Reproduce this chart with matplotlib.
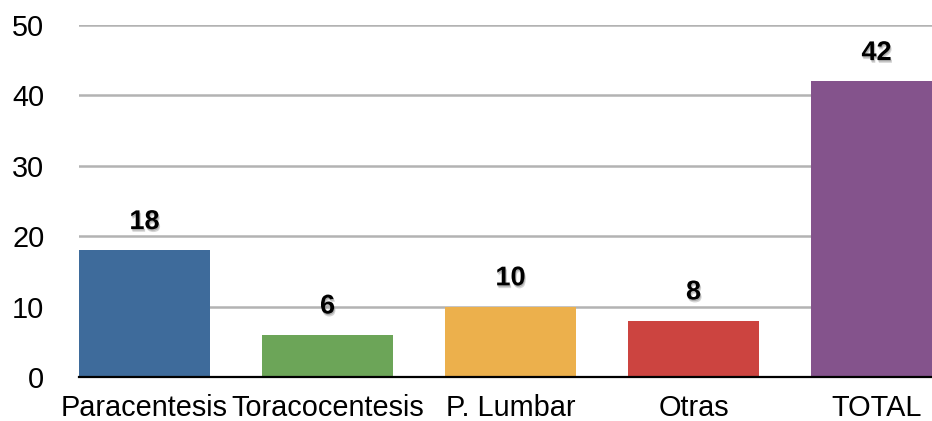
import matplotlib
matplotlib.use("Agg")
import matplotlib.pyplot as plt
import matplotlib.patheffects as pe

categories = ["Paracentesis", "Toracocentesis", "P. Lumbar", "Otras", "TOTAL"]
values = [18, 6, 10, 8, 42]
colors = ["#3e6b9b", "#6ca558", "#ecb04c", "#cc4440", "#84538c"]
yticks = [0, 10, 20, 30, 40, 50]

plt.rcParams["font.family"] = ["Liberation Sans", "DejaVu Sans"]

fig = plt.figure(figsize=(9.32, 4.21), dpi=100)
ax = fig.add_axes([0.0848, 0.1045, 0.9152, 0.8361])

x = list(range(len(categories)))
ax.bar(x, values, width=0.716, color=colors, zorder=2)

shadow = [pe.SimplePatchShadow(offset=(1.0, -2.0), shadow_rgbFace="#888888", alpha=0.35),
          pe.SimplePatchShadow(offset=(0.5, -1.0), shadow_rgbFace="#666666", alpha=0.35),
          pe.Normal()]
for xi, v in zip(x, values):
    ax.annotate(str(v), (xi, v), xytext=(0, 11), textcoords="offset points",
                ha="center", va="bottom", fontsize=19.5, fontweight="bold",
                color="black", path_effects=shadow)

ax.set_xlim(-0.358, 4.303)
ax.set_ylim(0, 50)
ax.set_yticks(yticks)
ax.set_xticks(x)
ax.set_xticklabels(categories)
ax.tick_params(axis="both", length=0, labelsize=20.8)
ax.tick_params(axis="y", pad=25)
ax.tick_params(axis="x", pad=12)
ax.yaxis.grid(True, color="#b3b3b3", linewidth=1.8, zorder=0)
ax.set_axisbelow(True)
for s in ["top", "right", "left"]:
    ax.spines[s].set_visible(False)
ax.spines["bottom"].set_color("black")
ax.spines["bottom"].set_linewidth(1.6)
ax.spines["bottom"].set_zorder(3)

fig.savefig("out.png", dpi=100)
